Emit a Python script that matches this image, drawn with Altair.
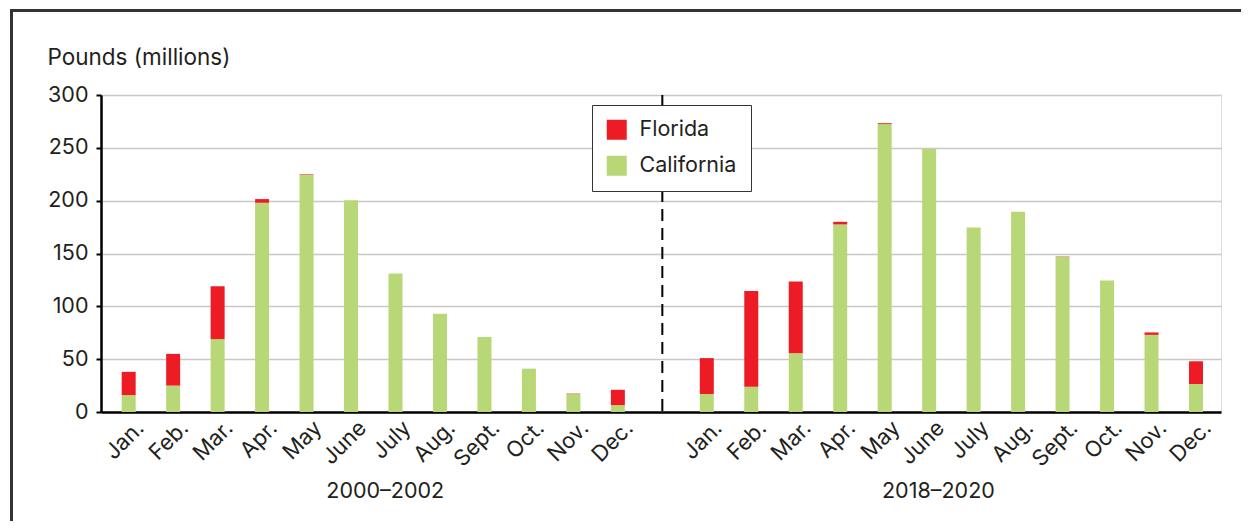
import altair as alt
import pandas as pd

months = ["Jan.", "Feb.", "Mar.", "Apr.", "May", "June", "July", "Aug.", "Sept.", "Oct.", "Nov.", "Dec."]
periods = ["2000–2002", "2018–2020"]
states = ["Florida", "California"]
state_colors = ["#ED1C24", "#B8D777"]

california_2000 = [16, 25, 69, 198, 224.5, 200.5, 131, 93, 71, 41, 17, 6.5]
florida_2000 = [22, 30, 50, 3.5, 0.5, 0, 0, 0, 0, 0, 0.4, 14.5]
california_2018 = [17, 24, 55.5, 177.5, 272.5, 249, 174.5, 189.5, 147, 124.5, 73, 26.5]
florida_2018 = [34, 90.5, 68, 2.5, 0.8, 0, 0, 0, 0.3, 0, 2.3, 21.5]
y_ticks = [0, 50, 100, 150, 200, 250, 300]

FONT = "Inter"
TXT = "#231f20"
W, H = 1120, 317

rows = []
slots = []
groups = [(california_2000, florida_2000), (california_2018, florida_2018)]
for g, (cal, fla) in enumerate(groups):
    for i, m in enumerate(months):
        slot = g * 13 + i
        slots.append(slot)
        rows.append({"slot": slot, "month": m, "state": "California", "value": cal[i], "ord": 0})
        rows.append({"slot": slot, "month": m, "state": "Florida", "value": fla[i], "ord": 1})
df = pd.DataFrame(rows)

label_expr = "[" + ",".join("'" + m + "'" for m in months) + "][datum.value % 13]"

xscale = alt.Scale(domain=[-0.51, 24.45], nice=False, zero=False)

bars = alt.Chart(df).mark_bar(size=14).encode(
    x=alt.X("slot:Q", scale=xscale,
            axis=alt.Axis(values=slots, labelExpr=label_expr, title=None, grid=False,
                          ticks=False, domainColor="black", domainWidth=2.5,
                          labelAngle=-45, labelAlign="right", labelBaseline="top",
                          labelPadding=5, labelOffset=4, labelFont=FONT, labelFontSize=22,
                          labelColor=TXT, labelOverlap=False, labelFlush=False)),
    y=alt.Y("value:Q", stack="zero", scale=alt.Scale(domain=[0, 300], nice=False),
            axis=alt.Axis(values=y_ticks, title="Pounds (millions)", titleAngle=0,
                          titleAlign="left", titleBaseline="middle", titleX=-54, titleY=-38,
                          titleFont=FONT, titleFontSize=22.5, titleFontWeight="normal",
                          titleColor=TXT, labelFont=FONT, labelFontSize=21.5, labelColor=TXT,
                          labelPadding=8, tickSize=5, tickColor="black", tickWidth=2,
                          domainColor="black", domainWidth=2.5, gridColor="#c8c8c8",
                          gridWidth=1.5)),
    color=alt.Color("state:N", scale=alt.Scale(domain=states, range=state_colors),
                    legend=alt.Legend(title=None, orient="none", legendX=491, legendY=10,
                                      symbolType="square", symbolSize=400,
                                      symbolStrokeWidth=0, labelFont=FONT,
                                      labelFontSize=21.5, labelColor=TXT, labelOffset=12,
                                      padding=14, rowPadding=13, strokeColor="#333",
                                      fillColor="white", cornerRadius=0)),
    order=alt.Order("ord:Q"),
)

sep = alt.Chart(pd.DataFrame({"slot": [12]})).mark_rule(
    color="black", strokeWidth=2, strokeDash=[12, 7]
).encode(x=alt.X("slot:Q", scale=xscale), y=alt.value(0), y2=alt.value(H))

centers = [sum(slots[:12]) / 12, sum(slots[12:]) / 12]
gdf = pd.DataFrame({"period": periods, "center": centers})
g1 = alt.Chart(gdf).transform_filter(alt.datum.period == periods[0]).mark_text(
    font=FONT, fontSize=21.5, color=TXT, baseline="middle", dx=12
).encode(x=alt.X("center:Q", scale=xscale), y=alt.value(H + 80), text="period:N")
g2 = alt.Chart(gdf).transform_filter(alt.datum.period == periods[1]).mark_text(
    font=FONT, fontSize=21.5, color=TXT, baseline="middle", dx=-13
).encode(x=alt.X("center:Q", scale=xscale), y=alt.value(H + 80), text="period:N")

border = alt.Chart(alt.Data(values=[{}])).mark_rect(
    filled=False, stroke="#333", strokeWidth=3
).encode(x=alt.value(-89.5), x2=alt.value(1400), y=alt.value(-84.5), y2=alt.value(700))

chart = alt.layer(border, bars, sep, g1, g2).properties(
    width=W, height=H,
    autosize=alt.AutoSizeParams(type="none"),
    padding={"left": 93, "top": 87, "right": 20, "bottom": 109},
).configure_view(strokeOpacity=0).configure(background="white")

chart.save("out.html", embed_options={"renderer": "svg", "actions": False})
